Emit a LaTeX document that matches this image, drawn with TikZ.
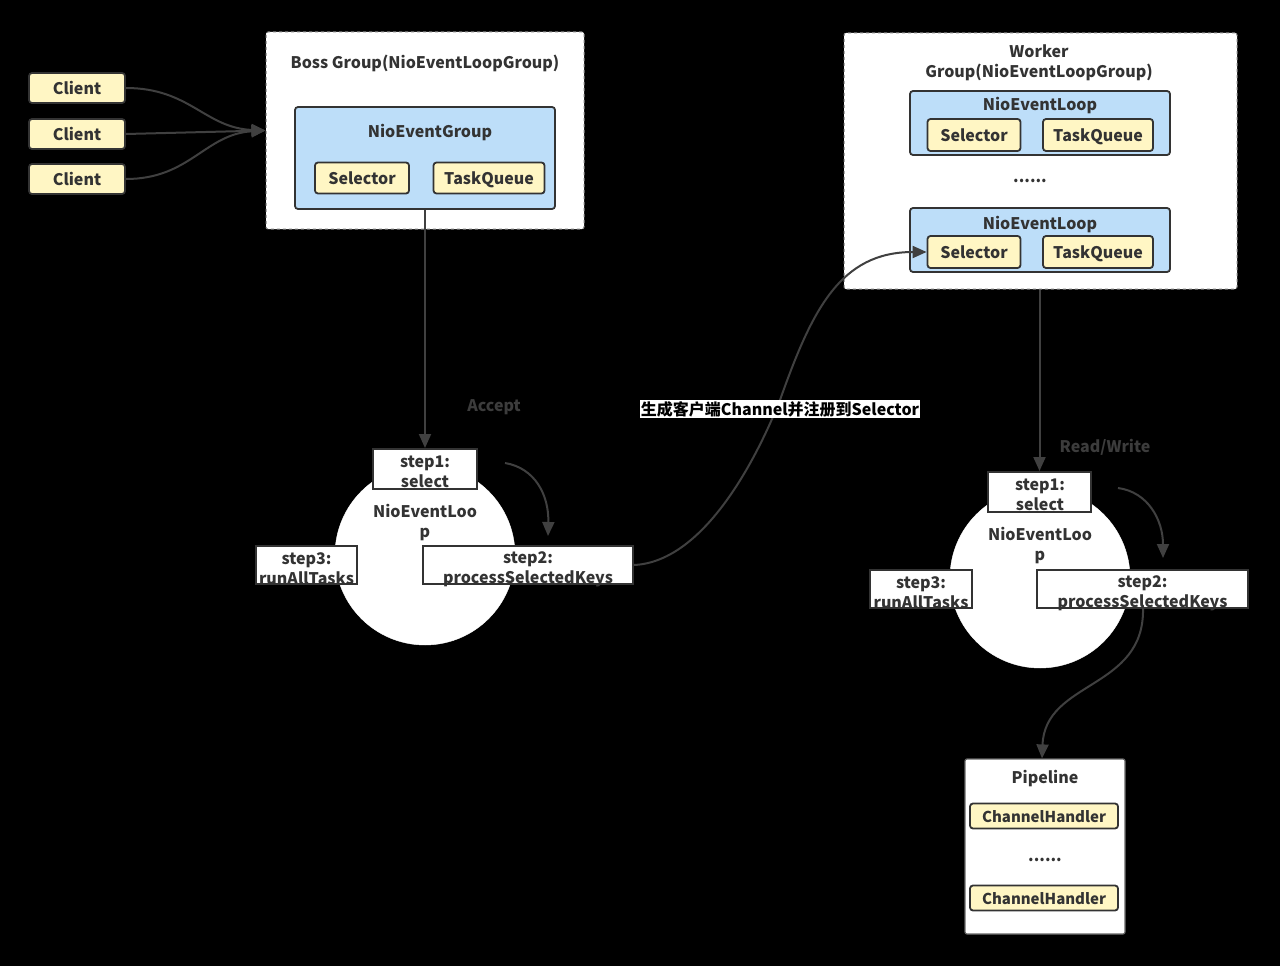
\documentclass[tikz,border=0pt]{standalone}
\usepackage{fontspec}
\setmainfont{Noto Sans CJK SC}
\usetikzlibrary{arrows.meta}
\definecolor{txt}{HTML}{333333}
\definecolor{lin}{HTML}{404040}
\definecolor{yel}{HTML}{FFF6C4}
\definecolor{blu}{HTML}{BDDEF9}
\definecolor{faint}{HTML}{3C3C3C}
\tikzset{
  every node/.style={font=\bfseries\fontsize{16}{20}\selectfont, text=txt, inner sep=0pt, align=center},
  ybox/.style={draw=txt, line width=1.8pt, fill=yel, rounded corners=3pt, text depth=-1.5pt},
  bbox/.style={draw=txt, line width=1.8pt, fill=blu, rounded corners=3pt},
  grp/.style={draw=gray, dashed, line width=1pt, fill=white, rounded corners=2pt},
  pbox/.style={draw=gray!80!black, line width=1.2pt, fill=white, rounded corners=2pt},
  stepbox/.style={draw=txt, line width=2pt, fill=white},
  loopc/.style={draw=white, fill=white, circle},
  arr/.style={draw=lin, line width=2pt, -{Triangle[length=14pt,width=12pt]}},
  lbl/.style={text=faint},
}
\begin{document}
\begin{tikzpicture}[x=1pt,y=-1pt]
\fill[black] (0,0) rectangle (1280,966);
\useasboundingbox (0,0) rectangle (1280,966);

% clients
\node[ybox, minimum width=96pt, minimum height=30pt] (c1) at (77,88) {Client};
\node[ybox, minimum width=96pt, minimum height=30pt] (c2) at (77,134) {Client};
\node[ybox, minimum width=96pt, minimum height=30pt] (c3) at (77,179) {Client};

% boss group
\node[grp, minimum width=318pt, minimum height=197pt] (boss) at (425,130.5) {};
\node (bosst) at (425,63) {Boss Group(NioEventLoopGroup)};
\node[bbox, minimum width=260pt, minimum height=102pt] (neg) at (425,158) {};
\node (negt) at (430,133) {NioEventGroup};
\node[ybox, minimum width=94pt, minimum height=31pt] (bsel) at (362,178) {Selector};
\node[ybox, minimum width=111pt, minimum height=31pt] (btq) at (489,178) {TaskQueue};

% worker group
\node[grp, minimum width=393pt, minimum height=256pt] (work) at (1040.5,161) {};
\node (workt) at (1039,63) {Worker\\Group(NioEventLoopGroup)};
\node[bbox, minimum width=260pt, minimum height=64pt] (wl1) at (1040,123) {};
\node (wl1t) at (1040,106) {NioEventLoop};
\node[ybox, minimum width=93pt, minimum height=32pt] (wsel1) at (974,135) {Selector};
\node[ybox, minimum width=110pt, minimum height=32pt] (wtq1) at (1098,135) {TaskQueue};
\node (wdots) at (1030,181) {......};
\node[bbox, minimum width=260pt, minimum height=64pt] (wl2) at (1040,240) {};
\node (wl2t) at (1040,225) {NioEventLoop};
\node[ybox, minimum width=93pt, minimum height=32pt] (wsel2) at (974,252) {Selector};
\node[ybox, minimum width=110pt, minimum height=32pt] (wtq2) at (1098,252) {TaskQueue};

% boss loop
\node[loopc, minimum size=180pt] (loop1) at (425,555) {};
\node (loop1t) at (425,523) {NioEventLoo\\p};
\node[stepbox, minimum width=104pt, minimum height=40pt] (s1a) at (425,469) {};
\node (s1at) at (425,472) {step1:\\select};
\node[stepbox, minimum width=210pt, minimum height=38pt] (s2a) at (528,565) {};
\node (s2at) at (528,569) {step2:\\processSelectedKeys};
\node[stepbox, minimum width=101pt, minimum height=38pt] (s3a) at (306.5,565) {};
\node (s3at) at (306.5,569) {step3:\\runAllTasks};
\node[lbl] (acc) at (494,407) {Accept};

% worker loop
\node[loopc, minimum size=180pt] (loop2) at (1040,578) {};
\node (loop2t) at (1040,546) {NioEventLoo\\p};
\node[stepbox, minimum width=103pt, minimum height=40pt] (s1b) at (1039.5,492) {};
\node (s1bt) at (1040,495) {step1:\\select};
\node[stepbox, minimum width=211pt, minimum height=38pt] (s2b) at (1142.5,589) {};
\node (s2bt) at (1142.5,593) {step2:\\processSelectedKeys};
\node[stepbox, minimum width=102pt, minimum height=38pt] (s3b) at (921,589) {};
\node (s3bt) at (921,593) {step3:\\runAllTasks};
\node[lbl] (rw) at (1105,447) {Read/Write};

% pipeline
\node[pbox, minimum width=160pt, minimum height=175pt] (pipe) at (1045,846.5) {};
\node (pipet) at (1045,779) {Pipeline};
\node[ybox, minimum width=148pt, minimum height=25pt, font=\bfseries\fontsize{15}{18}\selectfont] (ch1) at (1044,816) {ChannelHandler};
\node (pdots) at (1045,860) {......};
\node[ybox, minimum width=148pt, minimum height=25pt, font=\bfseries\fontsize{15}{18}\selectfont] (ch2) at (1044,898) {ChannelHandler};

% connectors
\draw[arr] (c1.east) .. controls (190,88) and (205,128) .. (boss.west);
\draw[arr] (c2.east) -- (boss.west);
\draw[arr] (c3.east) .. controls (190,179) and (205,134) .. (boss.west);
\draw[arr] (neg.south) -- (s1a.north);
\coordinate (l1s) at (505,463);
\coordinate (l1e) at (548,536);
\draw[arr] (l1s) .. controls (535,468) and (549,495) .. (l1e);
\draw[arr] (s2a.east) .. controls (700,562) and (752,470) .. (780,400) .. controls (812,310) and (840,252) .. (wsel2.west);
\draw[arr] (work.south -| s1b) -- (s1b.north);
\coordinate (l2s) at (1118,488);
\coordinate (l2e) at (1163,558);
\draw[arr] (l2s) .. controls (1148,492) and (1163,520) .. (l2e);
\coordinate (p2s) at (1143,608);
\draw[arr] (p2s) .. controls (1145,690) and (1045,680) .. (pipe.north -| 1042,0);

\node[fill=white, text=black, inner sep=1pt] (reg) at (780,409) {生成客户端Channel并注册到Selector};
\end{tikzpicture}
\end{document}
